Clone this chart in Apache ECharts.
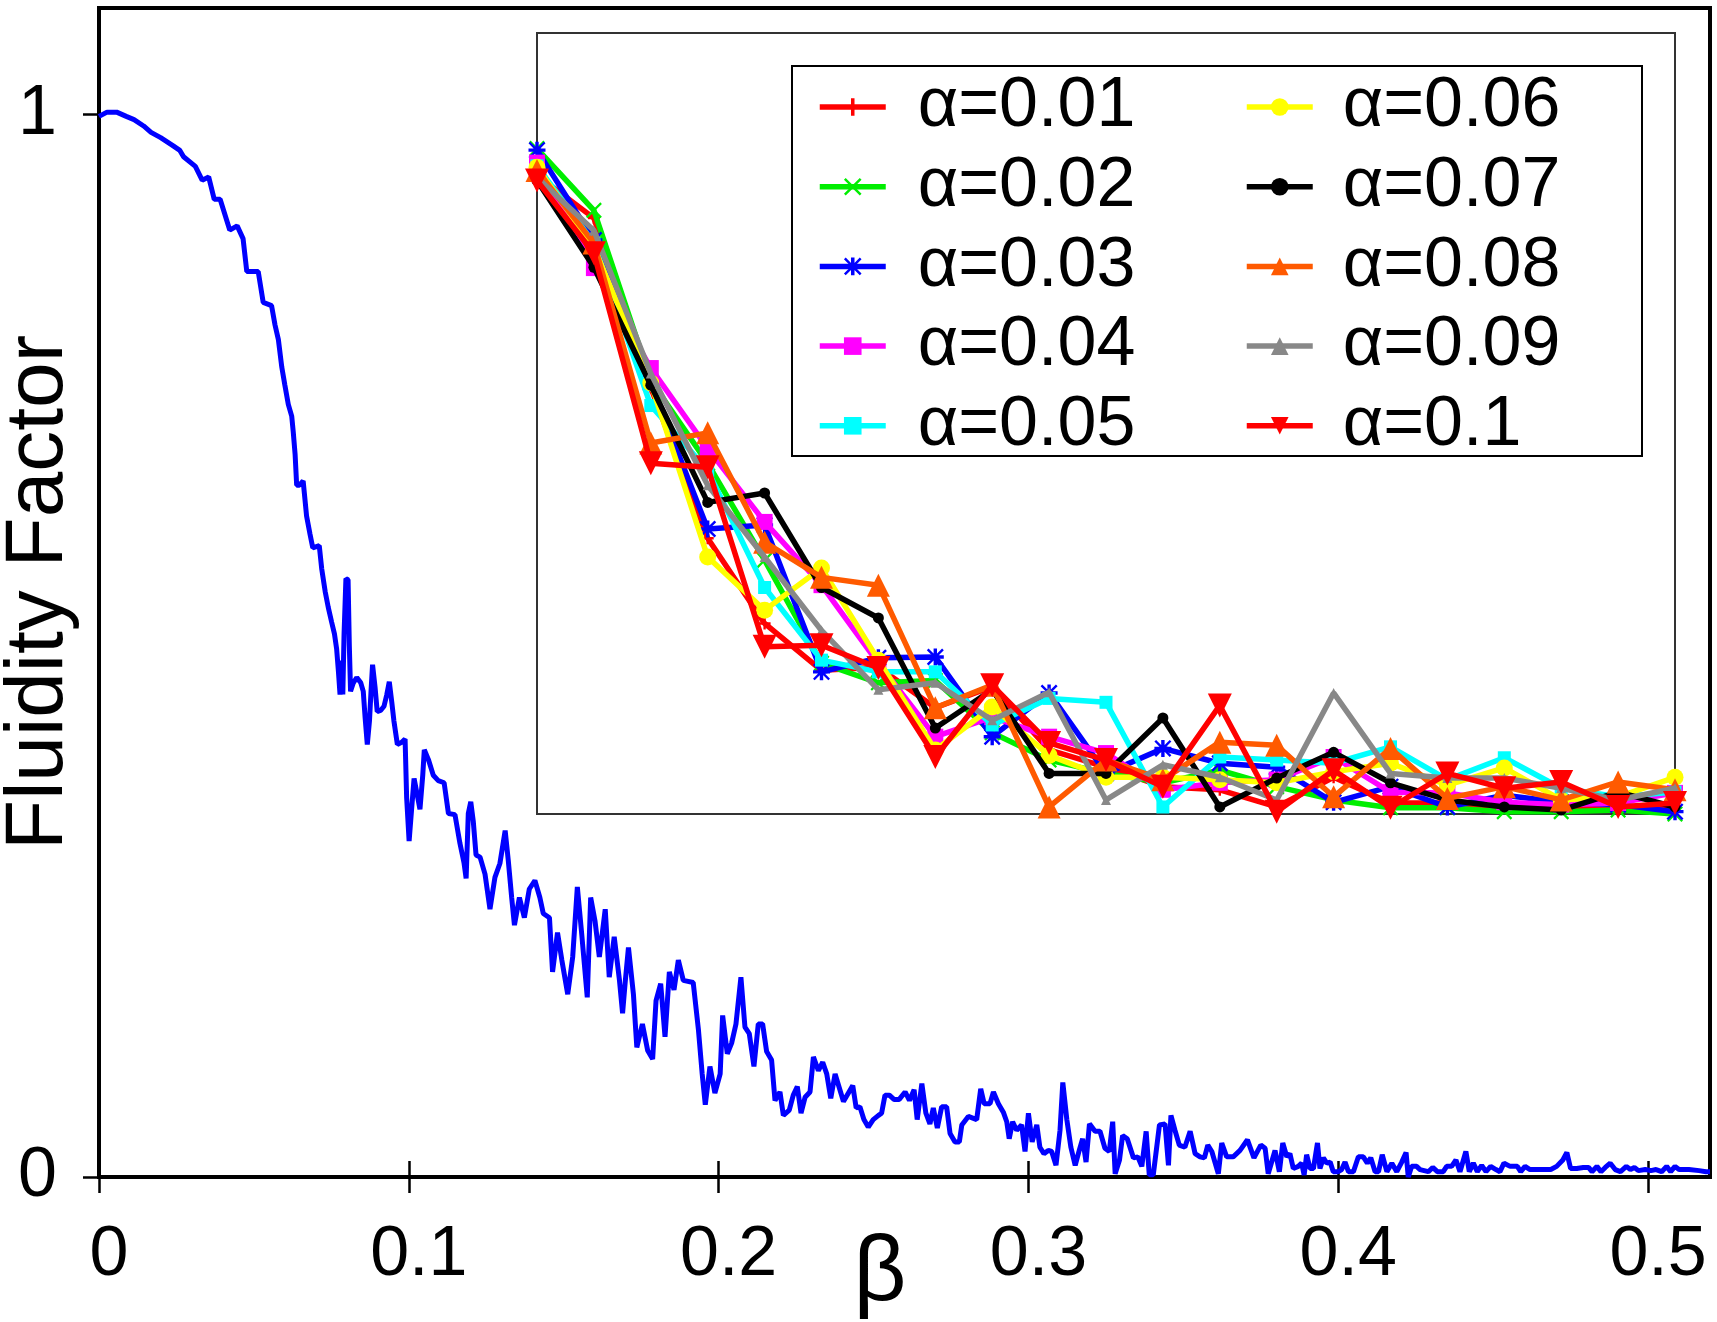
<!DOCTYPE html>
<html>
<head>
<meta charset="utf-8">
<script src="https://cdn.jsdelivr.net/npm/echarts@6.0.0/dist/echarts.min.js"></script>
<style>
html,body{margin:0;padding:0;background:#fff;}
#chart{width:1717px;height:1322px;}
</style>
</head>
<body>
<div id="chart"></div>
<script>
// ---------- main curve (beta, fluidity factor) ----------
const betaMain = [
0.0000,0.0026,0.0057,0.0088,0.0113,0.0144,0.0168,0.0199,0.0236,0.0261,0.0273,0.0311,0.0333,0.0354,0.0372,0.0391,0.0422,0.0446,0.0465,0.0477,0.0514,
0.0530,0.0557,0.0568,0.0579,0.0590,0.0600,0.0611,0.0622,0.0627,0.0633,0.0638,0.0647,0.0659,0.0670,0.0681,0.0690,0.0711,0.0719,0.0730,0.0740,0.0751,0.0760,0.0767,0.0773,0.0778,0.0783,0.0787,0.0791,0.0797,0.0804,0.0808,0.0812,0.0821,0.0832,0.0845,0.0853,0.0859,0.0866,0.0873,0.0878,0.0883,0.0891,0.0898,0.0909,0.0920,0.0929,0.0937,0.0945,0.0952,0.0963,0.0977,0.0988,0.0993,0.1001,0.1009,0.1017,0.1027,0.1036,0.1045,0.1050,0.1063,0.1079,0.1095,0.1114,0.1128,0.1149,0.1165,0.1178,0.1185,0.1192,0.1200,0.1208,0.1217,
0.1230,0.1246,0.1262,0.1278,0.1294,0.1311,0.1321,0.1332,0.1341,0.1357,0.1373,0.1389,0.1407,0.1423,0.1434,0.1454,0.1464,0.1480,0.1494,0.1513,0.1529,0.1544,0.1558,0.1576,0.1587,0.1601,0.1615,0.1634,0.1647,0.1663,0.1680,0.1690,0.1699,0.1709,0.1725,0.1736,0.1754,0.1771,0.1787,0.1798,0.1813,0.1827,0.1841,0.1856,0.1870,0.1886,0.1918,0.1935,0.1947,0.1957,0.1972,0.1988,0.2005,0.2013,0.2028,0.2042,0.2056,0.2072,0.2085,0.2099,0.2114,0.2128,0.2142,0.2155,0.2171,0.2182,0.2198,0.2209,0.2228,0.2241,0.2254,0.2266,0.2279,0.2295,0.2306,0.2322,0.2336,0.2349,0.2362,0.2376,
0.2403,0.2419,0.2433,0.2444,0.2456,0.2469,0.2483,0.2499,0.2516,0.2526,0.2537,0.2551,0.2566,0.2583,0.2602,0.2616,0.2631,0.2641,0.2656,0.2669,0.2682,0.2693,0.2706,0.2720,0.2736,0.2747,0.2763,0.2777,0.2785,0.2806,0.2833,0.2846,0.2857,0.2876,0.2887,0.2903,0.2919,0.2930,0.2938,0.2949,0.2962,0.2978,0.2989,0.3000,0.3012,0.3027,0.3037,0.3050,0.3064,0.3075,0.3089,0.3102,0.3111,0.3124,0.3137,0.3151,0.3164,0.3175,0.3186,0.3197,0.3215,0.3231,0.3247,0.3261,0.3272,0.3280,0.3294,0.3304,0.3319,0.3339,0.3353,0.3366,0.3380,0.3390,0.3403,0.3423,0.3441,0.3452,0.3460,0.3473,0.3487,0.3505,0.3522,0.3538,0.3554,0.3568,0.3579,0.3592,0.3613,0.3624,0.3640,0.3661,0.3683,0.3707,0.3728,0.3750,0.3764,0.3774,0.3796,0.3810,
0.3821,0.3834,0.3844,0.3855,0.3871,0.3882,0.3890,0.3898,0.3909,0.3920,0.3933,0.3941,0.3952,0.3963,0.3974,0.3984,0.4000,0.4011,0.4022,0.4033,0.4049,0.4065,0.4081,0.4094,0.4105,0.4119,0.4130,0.4142,0.4157,0.4173,0.4189,0.4205,0.4219,0.4226,0.4237,0.4253,0.4264,0.4291,0.4305,0.4320,0.4339,0.4350,0.4366,0.4380,0.4393,0.4412,0.4423,0.4436,0.4449,0.4463,0.4477,0.4492,0.4509,0.4522,0.4535,0.4555,0.4578,0.4589,0.4603,0.4619,0.4635,0.4662,0.4686,0.4705,0.4725,0.4738,0.4750,0.4770,0.4791,0.4808,0.4819,0.4835,0.4848,0.4862,0.4878,0.4894,0.4911,0.4930,0.4943,0.4956,0.4969,0.4991,0.5009,0.5026,0.5044,0.5060,0.5073,0.5087,0.5100,0.5132,0.5165,0.5187,0.5200
];
const fluidityMain = [
0.998,1.002,1.002,0.998,0.995,0.989,0.983,0.978,0.971,0.966,0.960,0.951,0.938,0.941,0.920,0.920,0.891,0.895,0.883,0.852,0.852,
0.823,0.820,0.802,0.788,0.762,0.745,0.727,0.716,0.701,0.680,0.651,0.651,0.655,0.622,0.605,0.592,0.594,0.572,0.551,0.536,0.522,0.511,0.497,0.475,0.454,0.486,0.454,0.511,0.563,0.562,0.500,0.457,0.465,0.470,0.465,0.457,0.432,0.407,0.429,0.457,0.482,0.461,0.438,0.439,0.443,0.454,0.466,0.447,0.429,0.407,0.409,0.412,0.357,0.316,0.346,0.375,0.360,0.346,0.378,0.402,0.393,0.378,0.373,0.371,0.342,0.341,0.314,0.296,0.281,0.342,0.353,0.335,0.303,
0.301,0.285,0.252,0.282,0.295,0.326,0.298,0.263,0.237,0.263,0.244,0.271,0.279,0.263,0.248,0.244,0.193,0.230,0.204,0.172,0.207,0.273,0.229,0.169,0.263,0.241,0.207,0.252,0.188,0.226,0.185,0.154,0.185,0.216,0.172,0.122,0.144,0.119,0.111,0.166,0.182,0.132,0.193,0.176,0.204,0.185,0.183,0.138,0.097,0.068,0.104,0.079,0.097,0.152,0.116,0.126,0.144,0.188,0.141,0.135,0.104,0.144,0.144,0.118,0.110,0.072,0.080,0.058,0.063,0.077,0.085,0.060,0.075,0.080,0.113,0.100,0.108,0.097,0.074,0.097,
0.071,0.079,0.086,0.065,0.066,0.054,0.047,0.054,0.058,0.060,0.077,0.077,0.073,0.073,0.080,0.072,0.082,0.054,0.088,0.060,0.050,0.065,0.046,0.066,0.066,0.041,0.033,0.033,0.049,0.057,0.054,0.083,0.069,0.069,0.080,0.069,0.061,0.052,0.036,0.052,0.044,0.049,0.024,0.060,0.033,0.049,0.028,0.022,0.025,0.024,0.011,0.044,0.089,0.054,0.028,0.011,0.025,0.036,0.014,0.050,0.043,0.043,0.027,0.024,0.052,0.003,0.016,0.039,0.036,0.018,0.019,0.010,0.043,0.002,0.002,0.049,0.050,0.011,0.058,0.044,0.030,0.028,0.043,0.022,0.019,0.018,0.030,0.024,0.003,0.032,0.019,0.019,0.025,0.035,0.018,0.030,0.027,0.003,0.025,0.005,
0.032,0.019,0.022,0.008,0.010,0.013,0.002,0.021,0.008,0.008,0.032,0.008,0.018,0.013,0.014,0.005,0.005,0.007,0.014,0.005,0.005,0.019,0.019,0.013,0.018,0.005,0.005,0.021,0.005,0.013,0.005,0.014,0.023,0.000,0.010,0.010,0.007,0.005,0.009,0.005,0.005,0.010,0.010,0.016,0.005,0.024,0.005,0.013,0.005,0.011,0.005,0.010,0.007,0.005,0.013,0.010,0.010,0.005,0.010,0.007,0.007,0.007,0.007,0.010,0.016,0.023,0.008,0.008,0.009,0.009,0.005,0.010,0.005,0.009,0.013,0.007,0.005,0.010,0.007,0.009,0.006,0.007,0.006,0.007,0.005,0.010,0.005,0.010,0.007,0.007,0.006,0.005,0.005
];

// ---------- inset (21 points per alpha) ----------
const insetX = [0,1,2,3,4,5,6,7,8,9,10,11,12,13,14,15,16,17,18,19,20];
const alpha001 = [0.818,0.763,0.546,0.353,0.244,0.184,0.188,0.136,0.163,0.082,0.060,0.035,0.031,0.009,0.047,0.014,0.014,0.009,0.009,0.005,0.009];
const alpha002 = [0.852,0.773,0.555,0.449,0.325,0.193,0.168,0.171,0.104,0.069,0.052,0.040,0.056,0.035,0.018,0.008,0.008,0.003,0.003,0.005,0.000];
const alpha003 = [0.850,0.735,0.552,0.365,0.370,0.182,0.200,0.201,0.099,0.155,0.052,0.084,0.065,0.060,0.015,0.035,0.009,0.024,0.015,0.012,0.003];
const alpha004 = [0.834,0.699,0.571,0.468,0.374,0.293,0.193,0.099,0.124,0.099,0.078,0.031,0.040,0.044,0.073,0.028,0.027,0.015,0.012,0.014,0.027];
const alpha005 = [0.830,0.731,0.523,0.440,0.290,0.197,0.182,0.182,0.114,0.148,0.143,0.009,0.073,0.069,0.065,0.086,0.044,0.072,0.033,0.022,0.028];
const alpha006 = [0.828,0.726,0.552,0.329,0.261,0.315,0.197,0.082,0.137,0.075,0.047,0.047,0.044,0.040,0.054,0.065,0.037,0.059,0.018,0.022,0.047];
const alpha007 = [0.811,0.700,0.549,0.399,0.411,0.290,0.251,0.110,0.159,0.052,0.052,0.123,0.009,0.046,0.079,0.040,0.018,0.009,0.005,0.028,0.009];
const alpha008 = [0.824,0.731,0.475,0.488,0.348,0.303,0.293,0.136,0.165,0.009,0.069,0.044,0.092,0.088,0.022,0.084,0.020,0.035,0.018,0.041,0.031];
const alpha009 = [0.815,0.747,0.564,0.421,0.329,0.235,0.159,0.168,0.120,0.156,0.018,0.063,0.047,0.018,0.155,0.052,0.046,0.046,0.033,0.018,0.033];
const alpha010 = [0.811,0.718,0.449,0.444,0.214,0.216,0.187,0.073,0.165,0.091,0.069,0.035,0.139,0.003,0.056,0.008,0.052,0.033,0.041,0.009,0.014];

const alphaNames = ['α=0.01','α=0.02','α=0.03','α=0.04','α=0.05','α=0.06','α=0.07','α=0.08','α=0.09','α=0.1'];
const xTickValues = [0,0.1,0.2,0.3,0.4,0.5];
const xTickLabels = ['0','0.1','0.2','0.3','0.4','0.5'];
const yTickValues = [0,1];
const yTickLabels = ['0','1'];

// ---------- styling ----------
const FONT = '"Liberation Sans", Arial, Helvetica, sans-serif';
const P_PLUS = 'path://M4,0H6V4H10V6H6V10H4V6H0V4H4Z';
const P_CROSS = 'path://M1,0L5,4L9,0L10,1L6,5L10,9L9,10L5,6L1,10L0,9L4,5L0,1Z';
const P_STAR = 'path://M4,0H6V4H10V6H6V10H4V6H0V4H4Z M1,0L5,4L9,0L10,1L6,5L10,9L9,10L5,6L1,10L0,9L4,5L0,1Z';
const insetStyles = [
  {color:'#ff0000', symbol:P_PLUS, size:12, rotate:0},
  {color:'#00ee00', symbol:P_CROSS, size:16, rotate:0},
  {color:'#0000ff', symbol:P_STAR, size:17, rotate:0},
  {color:'#ff00ff', symbol:'rect', size:16, rotate:0},
  {color:'#00ffff', symbol:'rect', size:13, rotate:0},
  {color:'#ffff00', symbol:'circle', size:17, rotate:0},
  {color:'#000000', symbol:'circle', size:11, rotate:0},
  {color:'#ff5a00', symbol:'triangle', size:23, rotate:0},
  {color:'#888888', symbol:'triangle', size:10, rotate:0},
  {color:'#ff0000', symbol:'triangle', size:24, rotate:180}
];
const insetData = [alpha001,alpha002,alpha003,alpha004,alpha005,alpha006,alpha007,alpha008,alpha009,alpha010];

function zip(xs, ys){ return xs.map((x,i)=>[x, ys[i]]); }
function labelFor(values, labels){
  return function(v){
    for (let i=0;i<values.length;i++){ if (Math.abs(values[i]-v) < 1e-6) return labels[i]; }
    return '';
  };
}

const series = [{
  name:'main', type:'line', xAxisIndex:0, yAxisIndex:0,
  data: zip(betaMain, fluidityMain),
  showSymbol:false, symbol:'none', clip:true,
  lineStyle:{color:'#0000ff', width:5}, z:2
}];
insetData.forEach((arr, k) => {
  const s = insetStyles[k];
  series.push({
    name: alphaNames[k], type:'line', xAxisIndex:2, yAxisIndex:2,
    data: zip(insetX, arr),
    symbol: s.symbol, symbolSize: s.size, symbolRotate: s.rotate,
    showSymbol:true, showAllSymbol:true, clip:false,
    lineStyle:{color:s.color, width:5.5},
    itemStyle:{color:s.color},
    z: 3 + k
  });
});

const xTickStyle = {show:true, inside:true, length:16, customValues:xTickValues, lineStyle:{color:'#000', width:2.5}};
const yTickStyle = {show:true, inside:true, length:16, customValues:yTickValues, lineStyle:{color:'#000', width:2.5}};
const legendText = {fontFamily:FONT, fontSize:70, lineHeight:68, color:'#000'};

const option = {
  animation:false,
  backgroundColor:'#ffffff',
  grid:[
    {left:99, right:7, top:8, bottom:145, show:true, borderColor:'#000', borderWidth:4, backgroundColor:'rgba(0,0,0,0)', outerBoundsMode:'none'},
    {left:537, right:42, top:33, bottom:508, show:true, borderColor:'#333', borderWidth:2, backgroundColor:'rgba(0,0,0,0)', outerBoundsMode:'none'}
  ],
  xAxis:[
    {gridIndex:0, type:'value', position:'bottom', min:0, max:0.52, interval:0.1,
     axisLine:{show:false}, axisTick:xTickStyle, splitLine:{show:false},
     axisLabel:{show:true, fontFamily:FONT, fontSize:70, color:'#000', margin:44, padding:[0,0,0,20],
                customValues:xTickValues, formatter:labelFor(xTickValues, xTickLabels)},
     name:'β', nameLocation:'middle', nameGap:52, nameMoveOverlap:false,
     nameTextStyle:{fontFamily:FONT, fontSize:92, color:'#000', padding:[0,49,0,0]}},
    {gridIndex:0, type:'value', position:'top', min:0, max:0.52, interval:0.1,
     axisLine:{show:false}, axisTick:xTickStyle, axisLabel:{show:false}, splitLine:{show:false}},
    {gridIndex:1, type:'value', min:0, max:20, show:false, splitLine:{show:false}}
  ],
  yAxis:[
    {gridIndex:0, type:'value', position:'left', min:0, max:1.1, interval:1,
     axisLine:{show:false}, axisTick:{show:false}, splitLine:{show:false},
     axisLabel:{show:true, fontFamily:FONT, fontSize:70, color:'#000', margin:42,
                customValues:yTickValues, formatter:labelFor(yTickValues, yTickLabels)},
     name:'Fluidity Factor', nameLocation:'middle', nameGap:19, nameRotate:90, nameMoveOverlap:false,
     nameTextStyle:{fontFamily:FONT, fontSize:82, color:'#000'}},
    {gridIndex:0, type:'value', position:'right', min:0, max:1.1, interval:1,
     axisLine:{show:false}, axisTick:yTickStyle, axisLabel:{show:false}, splitLine:{show:false}},
    {gridIndex:1, type:'value', min:0, max:1, show:false, splitLine:{show:false}}
  ],
  legend:[
    {data:alphaNames.slice(0,5), orient:'vertical', left:817, top:72, itemGap:9.7,
     itemWidth:66, itemHeight:22, padding:0, selectedMode:false, lineStyle:{width:5.5},
     textStyle:Object.assign({padding:[0,0,0,27]}, legendText)},
    {data:alphaNames.slice(5), orient:'vertical', left:1244, top:72, itemGap:9.7,
     itemWidth:66, itemHeight:22, padding:0, selectedMode:false, lineStyle:{width:5.5},
     textStyle:Object.assign({padding:[0,0,0,25]}, legendText)}
  ],
  graphic:[
    {type:'rect', z:3, shape:{x:792, y:66, width:850, height:390},
     style:{fill:'#ffffff', stroke:'#000', lineWidth:2}}
  ],
  series: series
};

const chart = echarts.init(document.getElementById('chart'), null, {renderer:'canvas'});
chart.setOption(option);
</script>
</body>
</html>
